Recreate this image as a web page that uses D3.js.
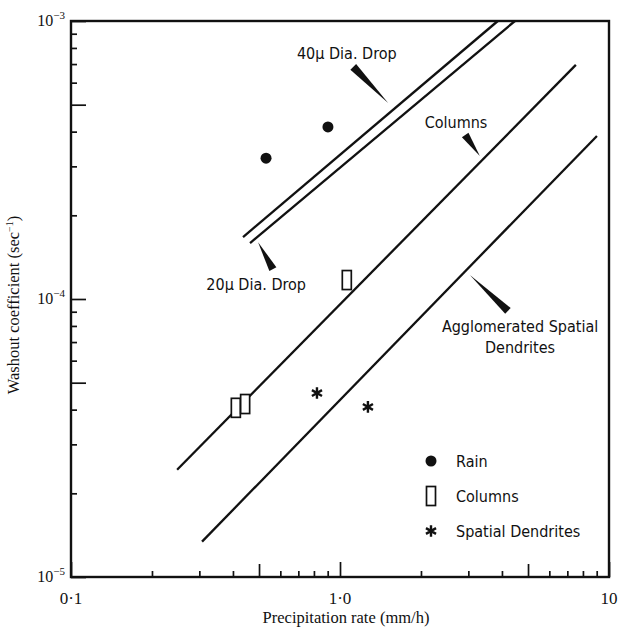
<!DOCTYPE html>
<html>
<head>
	<meta charset="utf-8">
	<script src="https://cdnjs.cloudflare.com/ajax/libs/d3/7.8.5/d3.min.js"></script>
	<style>
		body { margin: 0; background: #fff; }
		.serif { font-family: "Liberation Serif", "DejaVu Serif", serif; fill: #111; }
		.cond { font-family: "DejaVu Sans Condensed", "Liberation Sans Narrow", sans-serif; font-stretch: condensed; fill: #111; }
	</style>
</head>
<body>
	<svg width="621" height="629"></svg>
	<script>
		// lines: [x0, y0, x1, y1] in data units (mm/h, sec^-1)
		let drop40 = [0.436, 1.67e-4, 3.86, 1.0e-3],
			drop20 = [0.463, 1.59e-4, 4.47, 1.0e-3],
			columnsLine = [0.248, 2.43e-5, 7.53, 6.95e-4],
			dendriteLine = [0.307, 1.34e-5, 9.02, 3.86e-4];

		// observed points
		let rainX = [0.531, 0.902],
			rainY = [3.21e-4, 4.16e-4],
			colX = [0.41, 0.444, 1.06],
			colY = [4.06e-5, 4.19e-5, 1.17e-4],
			dendX = [0.821, 1.27],
			dendY = [4.59e-5, 4.09e-5];

		// ticks
		let xMajor = [0.1, 1, 10],
			xLabels = ["0·1", "1·0", "10"],
			xMinor = [0.2, 0.3, 0.4, 0.6, 0.7, 0.8, 0.9, 2, 3, 4, 6, 7, 8, 9],
			xMid = [0.5, 5],
			yMajor = [1e-5, 1e-4, 1e-3],
			yExp = ["−5", "−4", "−3"],
			yMinor = [2e-5, 3e-5, 4e-5, 6e-5, 7e-5, 8e-5, 9e-5, 2e-4, 3e-4, 4e-4, 6e-4, 7e-4, 8e-4, 9e-4],
			yMid = [5e-5, 5e-4];

		// annotations: label lines, label anchor, wedge tip (on line), wedge base
		let notes = [
			{ text: ["40μ Dia. Drop"], at: [1.06, 7.67e-4], tip: [1.51, 5.07e-4], base: [1.12, 6.84e-4] },
			{ text: ["Columns"], at: [2.70, 4.34e-4], tip: [3.31, 3.27e-4], base: [2.92, 3.89e-4] },
			{ text: ["20μ Dia. Drop"], at: [0.488, 1.13e-4], tip: [0.496, 1.60e-4], base: [0.563, 1.28e-4] },
			{ text: ["Agglomerated Spatial", "Dendrites"], at: [4.67, 8.0e-5], tip: [3.04, 1.22e-4], base: [4.21, 9.06e-5] }
		];

		let legendNames = ["Rain", "Columns", "Spatial Dendrites"];

		let svg = d3.select("svg"),
			margin = {top: 21, right: 12, bottom: 52, left: 71},
			width = svg.attr("width") - margin.left - margin.right,
			height = svg.attr("height") - margin.top - margin.bottom,
			g = svg.append("g").attr("transform", "translate(" + margin.left + "," + margin.top + ")");

		let x = d3.scaleLog().domain([0.1, 10]).range([0, width]),
			y = d3.scaleLog().domain([1e-5, 1e-3]).range([height, 0]);

		//inside ticks
		function ticksX(vals, len) {
			let a = g.append("g").attr("transform", "translate(0," + height + ")")
				.call(d3.axisBottom(x).tickValues(vals).tickSize(-len).tickFormat(""));
			a.select(".domain").remove();
			a.selectAll("line").attr("stroke", "#111").attr("stroke-width", 1.7);
		}
		function ticksY(vals, len) {
			let a = g.append("g")
				.call(d3.axisLeft(y).tickValues(vals).tickSize(-len).tickFormat(""));
			a.select(".domain").remove();
			a.selectAll("line").attr("stroke", "#111").attr("stroke-width", 1.7);
		}
		ticksX(xMinor, 6); ticksX(xMid, 13); ticksX(xMajor, 15);
		ticksY(yMinor, 6); ticksY(yMid, 15); ticksY(yMajor, 15);

		//frame
		g.append("rect")
			.attr("width", width).attr("height", height)
			.attr("fill", "none").attr("stroke", "#111").attr("stroke-width", 2.4);

		//x tick labels
		g.append("g").selectAll("text")
			.data(xMajor).enter().append("text")
			.attr("class", "serif")
			.attr("x", function(d) { return x(d); })
			.attr("y", height + 27)
			.attr("text-anchor", "middle")
			.style("font-size", "17px")
			.text(function(d, i) { return xLabels[i]; });

		//y tick labels
		let yl = g.append("g").selectAll("text")
			.data(yMajor).enter().append("text")
			.attr("class", "serif")
			.attr("x", -6)
			.attr("y", function(d) { return y(d) + 5; })
			.attr("text-anchor", "end")
			.style("font-size", "16px");
		yl.append("tspan").text("10");
		yl.append("tspan").attr("dy", -7).style("font-size", "11px").text(function(d, i) { return yExp[i]; });

		//axis titles
		svg.append("text")
			.attr("class", "serif")
			.attr("x", margin.left + width / 2 + 6)
			.attr("y", 623)
			.attr("text-anchor", "middle")
			.style("font-size", "16.5px")
			.text("Precipitation rate (mm/h)");
		let yt = svg.append("text")
			.attr("class", "serif")
			.attr("transform", "translate(19," + (margin.top + height / 2 + 6) + ") rotate(-90)")
			.attr("text-anchor", "middle")
			.style("font-size", "16.5px");
		yt.append("tspan").text("Washout coefficient (sec");
		yt.append("tspan").attr("dy", -6).style("font-size", "10px").text("−1");
		yt.append("tspan").attr("dy", 6).text(")");

		//theory lines
		[drop40, drop20, columnsLine, dendriteLine].forEach(function(l) {
			g.append("line")
				.attr("x1", x(l[0])).attr("y1", y(l[1]))
				.attr("x2", x(l[2])).attr("y2", y(l[3]))
				.attr("stroke", "#111").attr("stroke-width", 2.3);
		});

		//wedge pointers and labels
		notes.forEach(function(n) {
			let tx = x(n.tip[0]), ty = y(n.tip[1]),
				bx = x(n.base[0]), by = y(n.base[1]),
				dx = tx - bx, dy = ty - by, len = Math.sqrt(dx * dx + dy * dy),
				px = -dy / len * 4, py = dx / len * 4;
			g.append("path")
				.attr("d", "M" + tx + "," + ty + "L" + (bx + px) + "," + (by + py) + "L" + (bx - px) + "," + (by - py) + "Z")
				.attr("fill", "#111");
			n.text.forEach(function(t, i) {
				g.append("text")
					.attr("class", "cond")
					.attr("x", x(n.at[0]))
					.attr("y", y(n.at[1]) + i * 21 + 6)
					.attr("text-anchor", "middle")
					.style("font-size", "16px")
					.style("font-weight", 500)
					.text(t);
			});
		});

		//markers
		let asterisk = d3.symbol().type(d3.symbolAsterisk).size(95);
		g.append("g").selectAll("circle")
			.data(rainX).enter().append("circle")
			.attr("cx", function(d) { return x(d); })
			.attr("cy", function(d, i) { return y(rainY[i]); })
			.attr("r", 5.5).attr("fill", "#111");
		g.append("g").selectAll("rect")
			.data(colX).enter().append("rect")
			.attr("x", function(d) { return x(d) - 4.5; })
			.attr("y", function(d, i) { return y(colY[i]) - 9.5; })
			.attr("width", 9).attr("height", 19)
			.attr("fill", "#fff").attr("stroke", "#111").attr("stroke-width", 1.7);
		g.append("g").selectAll("path")
			.data(dendX).enter().append("path")
			.attr("d", asterisk)
			.attr("transform", function(d, i) { return "translate(" + x(d) + "," + y(dendY[i]) + ")"; })
			.attr("stroke", "#111").attr("stroke-width", 2.4).attr("fill", "none");

		//legend
		let legend = svg.append("g")
			.attr("transform", "translate(431,461)")
			.selectAll("g")
			.data(legendNames).enter().append("g")
			.attr("transform", function(d, i) { return "translate(0," + i * 35 + ")"; });
		legend.filter(function(d, i) { return i === 0; }).append("circle").attr("r", 5.5).attr("fill", "#111");
		legend.filter(function(d, i) { return i === 1; }).append("rect")
			.attr("x", -4.5).attr("y", -9.5).attr("width", 9).attr("height", 19)
			.attr("fill", "#fff").attr("stroke", "#111").attr("stroke-width", 1.7);
		legend.filter(function(d, i) { return i === 2; }).append("path")
			.attr("d", asterisk).attr("stroke", "#111").attr("stroke-width", 2.4).attr("fill", "none");
		legend.append("text")
			.attr("class", "cond")
			.attr("x", 25)
			.attr("y", 6)
			.style("font-size", "16px")
			.text(function(d) { return d; });
	</script>
</body>
</html>
